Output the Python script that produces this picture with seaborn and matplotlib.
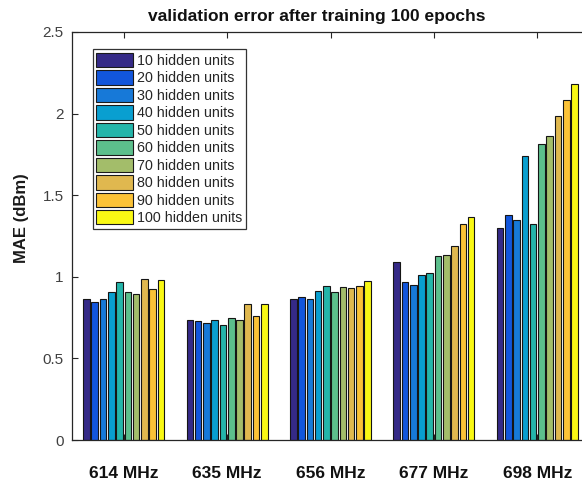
import matplotlib
matplotlib.use("Agg")
import matplotlib.pyplot as plt
from matplotlib.patches import Patch
import seaborn as sns
import pandas as pd

# ---- data ----
frequencies = ["614 MHz", "635 MHz", "656 MHz", "677 MHz", "698 MHz"]
units = ["10 hidden units", "20 hidden units", "30 hidden units", "40 hidden units",
         "50 hidden units", "60 hidden units", "70 hidden units", "80 hidden units",
         "90 hidden units", "100 hidden units"]
mae_614 = [0.864, 0.843, 0.864, 0.907, 0.966, 0.907, 0.893, 0.987, 0.927, 0.981]
mae_635 = [0.737, 0.731, 0.717, 0.733, 0.702, 0.745, 0.737, 0.833, 0.760, 0.833]
mae_656 = [0.864, 0.876, 0.864, 0.915, 0.944, 0.907, 0.936, 0.930, 0.944, 0.975]
mae_677 = [1.091, 0.966, 0.952, 1.013, 1.026, 1.128, 1.136, 1.188, 1.325, 1.364]
mae_698 = [1.296, 1.380, 1.347, 1.738, 1.321, 1.812, 1.863, 1.988, 2.084, 2.181]
yticks = [0, 0.5, 1, 1.5, 2, 2.5]
ytick_labels = ["0", "0.5", "1", "1.5", "2", "2.5"]
colors = ["#352a87", "#1256dc", "#1779d8", "#099fd0", "#24b5aa",
          "#5cbf8c", "#a3bd6a", "#e0b84f", "#fbc237", "#f9f814"]

rows = []
for f, vals in zip(frequencies, [mae_614, mae_635, mae_656, mae_677, mae_698]):
    for u, v in zip(units, vals):
        rows.append({"freq": f, "units": u, "mae": v})
df = pd.DataFrame(rows)

sns.set_theme(style="ticks")
plt.rcParams["font.family"] = ["Liberation Sans", "DejaVu Sans"]

fig = plt.figure(figsize=(5.82, 4.83), dpi=100)
W, H = 582, 483
ax = fig.add_axes([72 / W, (H - 440) / H, 517 / W, 408 / H])

sns.barplot(data=df, x="freq", y="mae", hue="units", order=frequencies,
            hue_order=units, palette=colors, errorbar=None, width=0.8, gap=0.2,
            edgecolor="#151515", linewidth=0.8, saturation=1, legend=False, ax=ax)

ax.set_xlim(-0.5, 4.5)
ax.set_ylim(0, 2.5)
ax.set_yticks(yticks)
ax.set_yticklabels(ytick_labels)
ax.set_xlabel("")
ax.set_ylabel("MAE (dBm)", fontsize=12, fontweight="bold", color="#1a1a1a")
ax.yaxis.set_label_coords(-0.084, 0.544)

for s in ["top", "bottom", "left", "right"]:
    ax.spines[s].set_visible(True)
    ax.spines[s].set_color("#262626")
    ax.spines[s].set_linewidth(0.9)

ax.tick_params(axis="x", direction="in", length=4, width=0.8, top=True, bottom=True,
               pad=19, labelsize=12.5, colors="#262626")
ax.tick_params(axis="y", direction="in", length=4, width=0.8, left=True, right=True,
               pad=6, labelsize=11, labelcolor="#404040", color="#262626")
for lab in ax.get_xticklabels():
    lab.set_fontweight("bold")
    lab.set_color("#111111")

handles = [Patch(facecolor=c, edgecolor="#1a1a1a", linewidth=0.8) for c in colors]
leg = ax.legend(handles, units, loc="upper left", bbox_to_anchor=(0.040, 0.9576),
                borderaxespad=0, fontsize=10.3, handlelength=2.6, handleheight=1.17,
                labelspacing=0.17, handletextpad=0.24, borderpad=0.25,
                frameon=True, fancybox=False, framealpha=1)
leg.get_frame().set_edgecolor("#333333")
leg.get_frame().set_linewidth(0.9)

fig.text(316.5 / W, 1 - 17 / H, "validation error after training 100 epochs",
         ha="center", va="center", fontsize=12.5, fontweight="bold", color="#111111")

fig.savefig("out.png", dpi=100, facecolor="white")
